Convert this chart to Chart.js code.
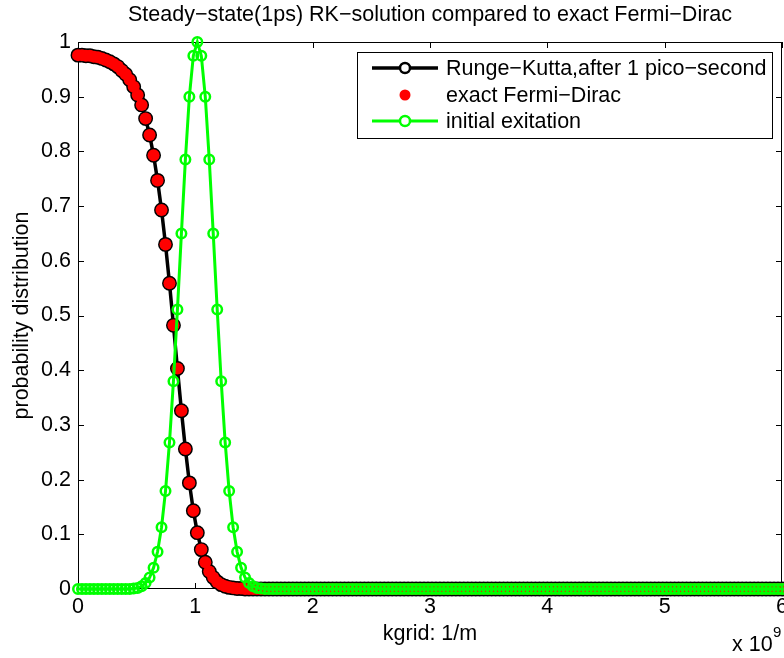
<!DOCTYPE html>
<html>
<head>
<meta charset="utf-8">
<script src="https://cdn.jsdelivr.net/npm/chart.js@4.4.1/dist/chart.umd.min.js"></script>
<style>
  html, body { margin: 0; padding: 0; background: #ffffff; }
  #wrap { width: 784px; height: 658px; position: relative; }
</style>
</head>
<body>
<div id="wrap"><canvas id="c" width="784" height="658"></canvas></div>
<script>
// ---- data (kgrid in units of 1e9 1/m) ----
const fermiDirac = [
  0.976,0.976,0.975,0.975,0.973,0.972,0.970,0.967,0.964,0.960,
  0.955,0.948,0.941,0.931,0.918,0.903,0.885,0.860,0.830,0.793,
  0.747,0.693,0.630,0.559,0.482,0.403,0.326,0.256,0.194,0.143,
  0.103,0.072,0.049,0.032,0.021,0.013,0.008,0.005,0.003,0.002,
  0.001,0.001,
  0,0,0,0,0,0,0,0,0,0,0,0,0,0,0,0,0,0,0,0,
  0,0,0,0,0,0,0,0,0,0,0,0,0,0,0,0,0,0,0,0,
  0,0,0,0,0,0,0,0,0,0,0,0,0,0,0,0,0,0,0,0,
  0,0,0,0,0,0,0,0,0,0,0,0,0,0,0,0,0,0,0,0,
  0,0,0,0,0,0,0,0,0,0,0,0,0,0,0,0,0,0,0,0,
  0,0,0,0,0,0,0,0,0,0,0,0,0,0,0,0,0,0,0,0,
  0,0,0,0,0,0,0,0,0,0,0,0,0,0,0,0
];
const rungeKutta = [
  0.976,0.976,0.975,0.975,0.973,0.972,0.970,0.967,0.964,0.960,
  0.955,0.948,0.941,0.931,0.918,0.903,0.885,0.860,0.830,0.793,
  0.747,0.693,0.630,0.559,0.482,0.403,0.326,0.256,0.194,0.143,
  0.103,0.072,0.049,0.032,0.021,0.013,0.008,0.005,0.003,0.002,
  0.001,0.001,
  0,0,0,0,0,0,0,0,0,0,0,0,0,0,0,0,0,0,0,0,
  0,0,0,0,0,0,0,0,0,0,0,0,0,0,0,0,0,0,0,0,
  0,0,0,0,0,0,0,0,0,0,0,0,0,0,0,0,0,0,0,0,
  0,0,0,0,0,0,0,0,0,0,0,0,0,0,0,0,0,0,0,0,
  0,0,0,0,0,0,0,0,0,0,0,0,0,0,0,0,0,0,0,0,
  0,0,0,0,0,0,0,0,0,0,0,0,0,0,0,0,0,0,0,0,
  0,0,0,0,0,0,0,0,0,0,0,0,0,0,0,0
];
const initialExcitation = [
  0,0,0,0,0,0,0,0,0,0,0,0,0,0,
  0.001,0.002,0.005,0.011,0.021,0.039,0.068,0.113,0.179,0.268,
  0.380,0.511,0.650,0.785,0.900,0.975,1.000,0.975,0.900,0.785,
  0.650,0.511,0.380,0.268,0.179,0.113,0.068,0.039,0.021,0.011,
  0.005,0.002,0.001,
  0,0,0,0,0,0,0,0,0,0,0,0,0,0,0,0,0,0,0,0,
  0,0,0,0,0,0,0,0,0,0,0,0,0,0,0,0,0,0,0,0,
  0,0,0,0,0,0,0,0,0,0,0,0,0,0,0,0,0,0,0,0,
  0,0,0,0,0,0,0,0,0,0,0,0,0,0,0,0,0,0,0,0,
  0,0,0,0,0,0,0,0,0,0,0,0,0,0,0,0,0,0,0,0,
  0,0,0,0,0,0,0,0,0,0,0,0,0,0,0,0,0,0,0,0,
  0,0,0,0,0,0,0,0,0,0,0
];
// uniform k-grid, 0 .. 6 (x 1e9), one entry per sample
const kgrid = fermiDirac.map((_, i) => i * 6 / (fermiDirac.length - 1));

const xTickLabels = ['0','1','2','3','4','5','6'];
const yTickLabels = ['0','0.1','0.2','0.3','0.4','0.5','0.6','0.7','0.8','0.9','1'];
const seriesLabels = ['Runge\u2212Kutta,after 1 pico\u2212second','exact Fermi\u2212Dirac','initial exitation'];
const titleText = 'Steady\u2212state(1ps) RK\u2212solution compared to exact Fermi\u2212Dirac';
const xLabel = 'kgrid: 1/m';
const yLabel = 'probability distribution';

const FONT = "'Liberation Sans', Arial, Helvetica, sans-serif";
const FS = 21.5;
const toPts = arr => arr.map((v, i) => ({ x: kgrid[i], y: v }));

const GREEN = '#00ff00', RED = '#ff0000', BLACK = '#000000';

const framePlugin = {
  id: 'frame',
  beforeDatasetsDraw(chart) {
    const { ctx, chartArea: a, scales } = chart;
    ctx.save();
    ctx.strokeStyle = BLACK;
    ctx.lineWidth = 1;
    ctx.strokeRect(a.left + 0.5, a.top + 0.5, a.right - a.left - 1, a.bottom - a.top - 1);
    const tl = 6;
    ctx.beginPath();
    scales.x.ticks.forEach(t => {
      const px = Math.round(scales.x.getPixelForValue(t.value)) + 0.5;
      ctx.moveTo(px, a.bottom); ctx.lineTo(px, a.bottom - tl);
      ctx.moveTo(px, a.top); ctx.lineTo(px, a.top + tl);
    });
    scales.y.ticks.forEach(t => {
      const py = Math.round(scales.y.getPixelForValue(t.value)) + 0.5;
      ctx.moveTo(a.left, py); ctx.lineTo(a.left + tl, py);
      ctx.moveTo(a.right, py); ctx.lineTo(a.right - tl, py);
    });
    ctx.stroke();
    ctx.restore();
  },
  afterDraw(chart) {
    const { ctx, chartArea: a } = chart;
    ctx.save();
    ctx.fillStyle = BLACK;
    ctx.font = FS + 'px ' + FONT;
    // title
    ctx.textAlign = 'center';
    ctx.textBaseline = 'middle';
    ctx.fillText(titleText, (a.left + a.right) / 2, 15);
    // x label
    ctx.fillText(xLabel, (a.left + a.right) / 2, 634);
    // y label
    ctx.save();
    ctx.translate(22, (a.top + a.bottom) / 2);
    ctx.rotate(-Math.PI / 2);
    ctx.fillText(yLabel, 0, 0);
    ctx.restore();
    // exponent
    ctx.textAlign = 'left';
    ctx.textBaseline = 'alphabetic';
    ctx.fillText('x 10', 732, 651);
    ctx.font = '15px ' + FONT;
    ctx.fillText('9', 773, 637);

    // legend
    const lw = 415, lh = 86;
    const lx = a.right - 10 - lw, ly = a.top + 10;
    ctx.fillStyle = '#ffffff';
    ctx.fillRect(lx, ly, lw, lh);
    ctx.strokeStyle = BLACK;
    ctx.lineWidth = 1;
    ctx.strokeRect(lx + 0.5, ly + 0.5, lw, lh);
    const rows = [ly + 16, ly + 43, ly + 69];
    const sx0 = lx + 15, sx1 = lx + 81, sm = (sx0 + sx1) / 2;
    // RK
    ctx.strokeStyle = BLACK; ctx.lineWidth = 3.5;
    ctx.beginPath(); ctx.moveTo(sx0, rows[0]); ctx.lineTo(sx1, rows[0]); ctx.stroke();
    ctx.lineWidth = 2.5; ctx.fillStyle = '#ffffff';
    ctx.beginPath(); ctx.arc(sm, rows[0], 5, 0, Math.PI * 2); ctx.fill(); ctx.stroke();
    // FD
    ctx.fillStyle = RED;
    ctx.beginPath(); ctx.arc(sm, rows[1], 5.5, 0, Math.PI * 2); ctx.fill();
    // green
    ctx.strokeStyle = GREEN; ctx.lineWidth = 3;
    ctx.beginPath(); ctx.moveTo(sx0, rows[2]); ctx.lineTo(sx1, rows[2]); ctx.stroke();
    ctx.lineWidth = 2.5; ctx.fillStyle = '#ffffff';
    ctx.beginPath(); ctx.arc(sm, rows[2], 5, 0, Math.PI * 2); ctx.fill(); ctx.stroke();
    // texts
    ctx.fillStyle = BLACK;
    ctx.font = FS + 'px ' + FONT;
    ctx.textAlign = 'left';
    ctx.textBaseline = 'middle';
    seriesLabels.forEach((s, i) => ctx.fillText(s, lx + 89, rows[i] + 1));
    ctx.restore();
  }
};

Chart.defaults.font.family = FONT;
Chart.defaults.font.size = FS;
Chart.defaults.color = BLACK;

new Chart(document.getElementById('c'), {
  type: 'line',
  data: {
    datasets: [
      {
        label: seriesLabels[2], data: toPts(initialExcitation), order: 0,
        borderColor: GREEN, borderWidth: 3, fill: false, tension: 0,
        pointRadius: 4.75, pointBorderWidth: 2.5, pointBorderColor: GREEN,
        pointBackgroundColor: 'rgba(0,0,0,0)', clip: false
      },
      {
        label: seriesLabels[1], data: toPts(fermiDirac), order: 1,
        showLine: false, pointRadius: 6, pointBorderWidth: 0,
        pointBackgroundColor: RED, pointBorderColor: RED, clip: false
      },
      {
        label: seriesLabels[0], data: toPts(rungeKutta), order: 2,
        borderColor: BLACK, borderWidth: 3.5, fill: false, tension: 0,
        pointRadius: 6.2, pointBorderWidth: 2.5, pointBorderColor: BLACK,
        pointBackgroundColor: 'rgba(0,0,0,0)', clip: false
      }
    ]
  },
  options: {
    responsive: false,
    animation: false,
    devicePixelRatio: 1,
    layout: { padding: { top: 42, right: 2, bottom: 0, left: 0 }, autoPadding: false },
    plugins: { legend: { display: false }, tooltip: { enabled: false }, title: { display: false } },
    scales: {
      x: {
        type: 'linear', min: 0, max: 6,
        grid: { display: false, drawTicks: false },
        border: { display: false },
        ticks: { stepSize: 1, padding: 5, color: BLACK, font: { size: FS },
                 maxRotation: 0, autoSkip: false,
                 callback: (v) => xTickLabels[Math.round(v)] },
        afterFit(s) { s.height = 69; s.paddingLeft = 0; s.paddingRight = 0; }
      },
      y: {
        type: 'linear', min: 0, max: 1,
        grid: { display: false, drawTicks: false },
        border: { display: false },
        ticks: { stepSize: 0.1, padding: 7, color: BLACK, font: { size: FS }, autoSkip: false,
                 callback: (v) => yTickLabels[Math.round(v * 10)] },
        afterFit(s) { s.width = 78; s.paddingTop = 0; s.paddingBottom = 0; }
      }
    }
  },
  plugins: [framePlugin]
});
</script>
</body>
</html>
